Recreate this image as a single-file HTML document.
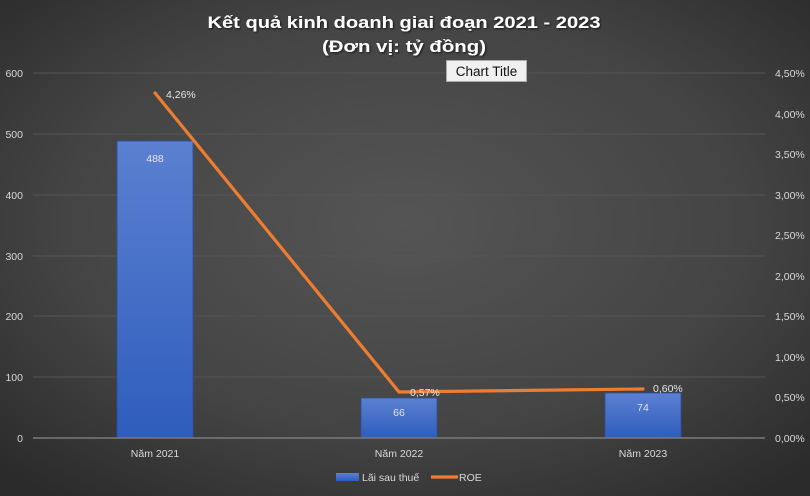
<!DOCTYPE html>
<html><head><meta charset="utf-8"><style>
html,body{margin:0;padding:0;width:810px;height:496px;overflow:hidden;background:#333;}
svg{display:block;}
text{font-family:"Liberation Sans","DejaVu Sans",sans-serif;}
</style></head><body>
<svg width="810" height="496" viewBox="0 0 810 496" xmlns="http://www.w3.org/2000/svg">
<defs>
<radialGradient id="bg" cx="0.5" cy="0.45" r="0.7">
<stop offset="0" stop-color="#555555"/>
<stop offset="0.6" stop-color="#444444"/>
<stop offset="1" stop-color="#2b2b2b"/>
</radialGradient>
<linearGradient id="bar" x1="0" y1="0" x2="0" y2="1">
<stop offset="0" stop-color="#5b80d1"/>
<stop offset="1" stop-color="#2f5dbd"/>
</linearGradient>
<filter id="sh" x="-5%" y="-20%" width="110%" height="140%"><feDropShadow dx="1" dy="1" stdDeviation="1" flood-color="#000" flood-opacity="0.7"/></filter>
</defs>
<rect width="810" height="496" fill="url(#bg)"/>
<!-- title -->
<g filter="url(#sh)" fill="#ffffff" font-weight="bold" font-size="17" text-anchor="middle">
<text x="404" y="28" textLength="393" lengthAdjust="spacingAndGlyphs">Kết quả kinh doanh giai đoạn 2021 - 2023</text>
<text x="404" y="52" textLength="164" lengthAdjust="spacingAndGlyphs">(Đơn vị: tỷ đồng)</text>
</g>
<!-- gridlines -->
<g stroke="#555555" stroke-width="1">
<line x1="33" y1="73" x2="765" y2="73"/>
<line x1="33" y1="134" x2="765" y2="134"/>
<line x1="33" y1="195" x2="765" y2="195"/>
<line x1="33" y1="256" x2="765" y2="256"/>
<line x1="33" y1="316" x2="765" y2="316"/>
<line x1="33" y1="377" x2="765" y2="377"/>
</g>
<!-- left axis labels -->
<g fill="#d9d9d9" font-size="10.5" text-anchor="end">
<text x="23" y="77">600</text>
<text x="23" y="138">500</text>
<text x="23" y="199">400</text>
<text x="23" y="260">300</text>
<text x="23" y="320">200</text>
<text x="23" y="381">100</text>
<text x="23" y="442">0</text>
</g>
<!-- right axis labels -->
<g fill="#d9d9d9" font-size="10.5">
<text x="775" y="77">4,50%</text>
<text x="775" y="118">4,00%</text>
<text x="775" y="158">3,50%</text>
<text x="775" y="199">3,00%</text>
<text x="775" y="239">2,50%</text>
<text x="775" y="280">2,00%</text>
<text x="775" y="320">1,50%</text>
<text x="775" y="361">1,00%</text>
<text x="775" y="401">0,50%</text>
<text x="775" y="442">0,00%</text>
</g>
<!-- bars -->
<g stroke="#2a4f9e" stroke-width="0.8">
<rect x="117" y="141" width="76" height="297" fill="url(#bar)"/>
<rect x="361" y="398" width="76" height="40" fill="url(#bar)"/>
<rect x="605" y="393" width="76" height="45" fill="url(#bar)"/>
</g>
<!-- axis -->
<line x1="33" y1="438" x2="765" y2="438" stroke="#7a7a7a" stroke-width="1.5"/>
<!-- bar labels -->
<g fill="#e6e6e6" font-size="10.5" text-anchor="middle">
<text x="155" y="162">488</text>
<text x="399" y="416">66</text>
<text x="643" y="411">74</text>
</g>
<!-- ROE line -->
<polyline points="155,93 399,392 643,389" fill="none" stroke="#ed7d31" stroke-width="3.2" stroke-linejoin="round" stroke-linecap="round"/>
<g fill="#e6e6e6" font-size="10.5">
<text x="166" y="98">4,26%</text>
<text x="410" y="396">0,57%</text>
<text x="653" y="392">0,60%</text>
</g>
<!-- x labels -->
<g fill="#d9d9d9" font-size="10.5" text-anchor="middle">
<text x="155" y="457">Năm 2021</text>
<text x="399" y="457">Năm 2022</text>
<text x="643" y="457">Năm 2023</text>
</g>
<!-- legend -->
<rect x="336" y="473" width="23" height="8" fill="url(#bar)"/>
<text x="362" y="481" fill="#d9d9d9" font-size="10.5">Lãi sau thuế</text>
<line x1="431" y1="477" x2="458" y2="477" stroke="#ed7d31" stroke-width="3.2"/>
<text x="459" y="481" fill="#d9d9d9" font-size="10.5">ROE</text>
<!-- Chart Title tooltip -->
<rect x="446.5" y="60.5" width="80" height="21" fill="#f0f0f0" stroke="#aaaaaa" stroke-width="1"/>
<text x="486.5" y="76" fill="#111" font-size="13.5" text-anchor="middle">Chart Title</text>
</svg>
</body></html>
